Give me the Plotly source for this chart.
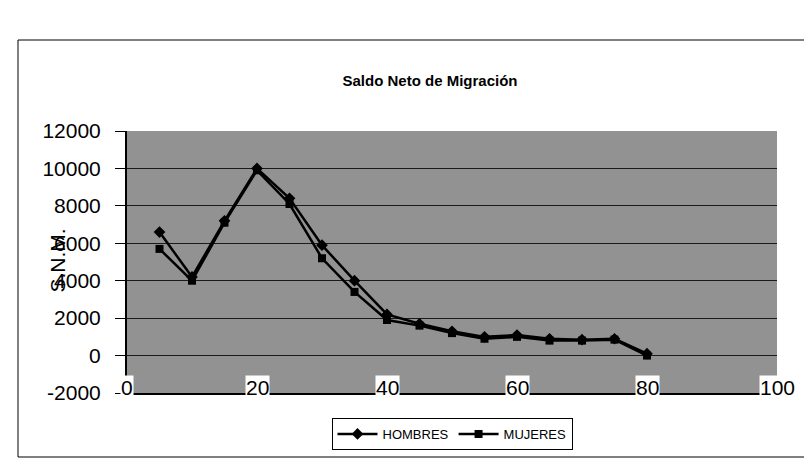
import plotly.graph_objects as go

edades = [5, 10, 15, 20, 25, 30, 35, 40, 45, 50, 55, 60, 65, 70, 75, 80]
hombres = [6600, 4200, 7200, 10000, 8400, 5900, 4000, 2200, 1700, 1300, 1000, 1100, 900, 850, 900, 100]
mujeres = [5700, 4000, 7100, 9900, 8100, 5200, 3400, 1900, 1600, 1200, 900, 1000, 800, 800, 850, 0]
x_ticks = [0, 20, 40, 60, 80, 100]
y_ticks = [-2000, 0, 2000, 4000, 6000, 8000, 10000, 12000]
y_labels = ["-2000", "0", "2000", "4000", "6000", "8000", "10000", "12000"]

W, H = 812, 465
ML, MR, MT, MB = 119, 43, 123, 80

FONT = "Liberation Sans, Arial"

fig = go.Figure()
fig.add_trace(go.Scatter(x=edades, y=hombres, name="HOMBRES", mode="lines+markers",
                         line=dict(color="black", width=2.5),
                         marker=dict(symbol="diamond", size=9, color="black")))
fig.add_trace(go.Scatter(x=edades, y=mujeres, name="MUJERES", mode="lines+markers",
                         line=dict(color="black", width=2.5),
                         marker=dict(symbol="square", size=8, color="black")))

# x tick labels drawn with white boxes, straddling the plot's bottom edge
for t in x_ticks:
    fig.add_annotation(x=t, y=-1700, xref="x", yref="y", text=str(t), showarrow=False,
                       font=dict(family=FONT, size=21, color="black"),
                       bgcolor="white", borderpad=0)

pw = W - ML - MR
ph = H - MT - MB

# y-axis title overlapping the tick labels
fig.add_annotation(x=(35 - ML) / pw, y=(H - 253 - MB) / ph, xref="paper", yref="paper",
                   text="S.N.M.", textangle=-90, showarrow=False,
                   font=dict(family=FONT, size=21, color="black"))

# chart-area frame
fig.add_shape(type="rect", xref="paper", yref="paper",
              x0=(10 - ML) / pw, x1=(830 - ML) / pw,
              y0=(H - 449 - MB) / ph, y1=(H - 32 - MB) / ph,
              line=dict(color="black", width=1), layer="below")

fig.update_layout(
    width=W, height=H,
    margin=dict(l=ML, r=MR, t=MT, b=MB, autoexpand=False),
    paper_bgcolor="white",
    plot_bgcolor="#929292",
    title=dict(text="<b>Saldo Neto de Migración</b>", x=(422 - ML) / pw, xref="paper",
               xanchor="center", y=1 - 73 / H, yanchor="middle",
               font=dict(family=FONT, size=15, color="black")),
    font=dict(family=FONT, color="black"),
    showlegend=True,
    xaxis=dict(range=[0, 100], tickvals=x_ticks, showticklabels=False, showgrid=False,
               zeroline=False, showline=True, linecolor="black", linewidth=2, mirror=False),
    yaxis=dict(range=[-2000, 12000], tickvals=y_ticks, ticktext=y_labels,
               ticks="outside", ticklen=10, tickwidth=1, tickcolor="black",
               ticklabelstandoff=10,
               tickfont=dict(family=FONT, size=21, color="black"),
               showgrid=True, gridcolor="#1a1a1a", gridwidth=1, zeroline=False,
               showline=True, linecolor="black", linewidth=2),
    legend=dict(orientation="h", x=(444 - ML) / pw, xanchor="center",
                y=(H - 410 - MB) / ph, yanchor="top",
                bordercolor="black", borderwidth=1, bgcolor="white",
                font=dict(family=FONT, size=13, color="black"),
                itemwidth=40, tracegroupgap=0),
)

fig.write_html("out.html")
